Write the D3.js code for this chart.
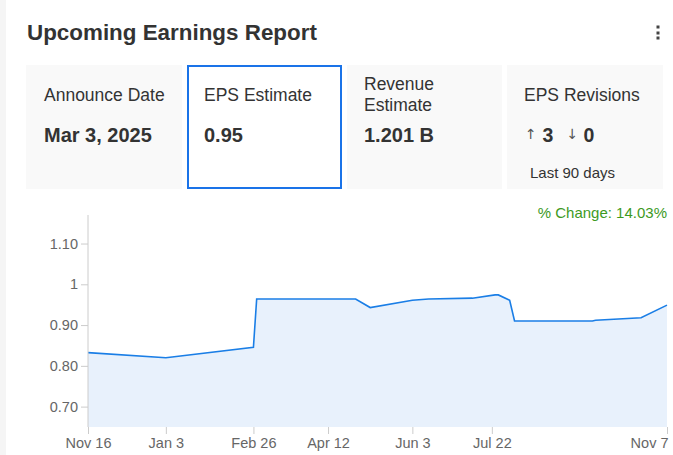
<!DOCTYPE html>
<html>
<head>
<meta charset="utf-8">
<script src="https://cdn.jsdelivr.net/npm/d3@7/dist/d3.min.js"></script>
<style>
  html, body { margin: 0; padding: 0; background: #fff; }
  svg { display: block; font-family: Arial, "Liberation Sans", sans-serif; }
</style>
</head>
<body>
<svg id="chart" width="673" height="455"></svg>
<script>
// ---- Data ----
const dates = ["2023-11-16","2024-01-03","2024-02-26","2024-02-28","2024-04-29","2024-05-08","2024-06-03","2024-06-13","2024-07-10","2024-07-24","2024-07-26","2024-08-02","2024-08-05","2024-09-22","2024-09-24","2024-10-22","2024-11-07"];
const epsValues = [0.8325,0.820,0.8455,0.964,0.964,0.943,0.961,0.964,0.966,0.974,0.974,0.961,0.910,0.910,0.912,0.918,0.949];
const yTicks = [0.70,0.80,0.90,1.00,1.10];
const yTickLabels = ["0.70","0.80","0.90","1","1.10"];
const xTicks = ["2023-11-16","2024-01-03","2024-02-26","2024-04-12","2024-06-03","2024-07-22","2024-11-07"];
const xTickLabels = ["Nov 16","Jan 3","Feb 26","Apr 12","Jun 3","Jul 22","Nov 7"];
const cardTitles = [["Announce Date"],["EPS Estimate"],["Revenue","Estimate"],["EPS Revisions"]];
const cardValues = ["Mar 3, 2025","0.95","1.201 B",""];
const revisionsUp = 3, revisionsDown = 0;
const pctChange = "14.03%";

const svg = d3.select("#chart");
const parse = d3.utcParse("%Y-%m-%d");

// page chrome
svg.append("rect").attr("x",0).attr("y",0).attr("width",6).attr("height",455).attr("fill","#f5f5f5");
svg.append("text").attr("x",27).attr("y",40).attr("font-size",22.4).attr("font-weight","bold")
  .attr("fill","#333").text("Upcoming Earnings Report");
[27,33,38].forEach(cy => svg.append("rect").attr("x",656.5).attr("y",cy-1.5).attr("width",3).attr("height",3).attr("fill","#444"));

// cards
const cardX = [26,187,347,507], cardY = 65, cardH = 124;
const cardR = [182,342,502,663];
cardX.forEach((x,i) => {
  svg.append("rect").attr("x",x).attr("y",cardY).attr("width",cardR[i]-x).attr("height",cardH)
    .attr("fill", i===1 ? "#fff" : "#f9f9f9");
  const tx = x + (i===0 ? 18 : 17);
  const lines = cardTitles[i];
  lines.forEach((t,j) => {
    const yb = lines.length===1 ? 101 : 90 + j*21;
    svg.append("text").attr("x",tx).attr("y",yb).attr("font-size",17.5).attr("fill","#333").text(t);
  });
  if (cardValues[i]) {
    svg.append("text").attr("x",tx).attr("y",142).attr("font-size",20).attr("font-weight","bold")
      .attr("fill","#333").text(cardValues[i]);
  }
});
svg.append("rect").attr("x",188).attr("y",66).attr("width",153).attr("height",122)
  .attr("fill","none").attr("stroke","#1a73e8").attr("stroke-width",2);
// revisions
svg.append("text").attr("x",525).attr("y",139).attr("font-size",14).attr("fill","#555")
  .attr("font-family","'DejaVu Sans', sans-serif").text("↑");
svg.append("text").attr("x",542.5).attr("y",142).attr("font-size",19.5).attr("font-weight","bold")
  .attr("fill","#333").text(revisionsUp);
svg.append("text").attr("x",566.5).attr("y",139).attr("font-size",14).attr("fill","#555")
  .attr("font-family","'DejaVu Sans', sans-serif").text("↓");
svg.append("text").attr("x",583.5).attr("y",142).attr("font-size",19.5).attr("font-weight","bold")
  .attr("fill","#333").text(revisionsDown);
svg.append("text").attr("x",530).attr("y",178).attr("font-size",15).attr("fill","#333").text("Last 90 days");

// ---- Chart ----
const x0 = 88, x1 = 667, yTop = 215, yBot = 427;
const x = d3.scaleUtc().domain([parse(xTicks[0]), parse(xTicks[xTicks.length-1])]).range([x0,x1]);
const y = d3.scaleLinear().domain([0.65,1.17]).range([yBot,yTop]);
const data = dates.map((d,i) => ({d: parse(d), v: epsValues[i]}));

svg.append("path").datum(data)
  .attr("d", d3.area().x(p=>x(p.d)).y0(yBot).y1(p=>y(p.v)))
  .attr("fill","#e8f1fc");
svg.append("path").datum(data)
  .attr("d", d3.line().x(p=>x(p.d)).y(p=>y(p.v)))
  .attr("fill","none").attr("stroke","#1a7ee6").attr("stroke-width",1.6);

const yAxis = svg.append("g").attr("transform",`translate(${x0},0)`)
  .call(d3.axisLeft(y).tickValues(yTicks).tickFormat((d,i)=>yTickLabels[i]).tickSize(7).tickPadding(3));
yAxis.select(".domain").attr("d",`M0,${yTop}V${yBot}`).attr("stroke","#ccc");
yAxis.selectAll(".tick line").attr("stroke","#ccc");
yAxis.selectAll(".tick text").attr("font-size",14.5).attr("fill","#666").attr("font-family","Arial, 'Liberation Sans', sans-serif");

const xAxis = svg.append("g").attr("transform",`translate(0,${yBot})`)
  .call(d3.axisBottom(x).tickValues(xTicks.map(parse)).tickFormat((d,i)=>xTickLabels[i]).tickSize(7).tickPadding(4));
xAxis.select(".domain").remove();
xAxis.selectAll(".tick line").attr("stroke","#ccc");
xAxis.selectAll(".tick text").attr("font-size",14.5).attr("fill","#666").attr("font-family","Arial, 'Liberation Sans', sans-serif");
xAxis.selectAll(".tick text").filter((d,i)=> i === xTicks.length-1).attr("text-anchor","end").attr("dx",1);

svg.append("text").attr("x",667).attr("y",218).attr("text-anchor","end").attr("font-size",15)
  .attr("fill","#3d9a1f").text("% Change: " + pctChange);
</script>
</body>
</html>
